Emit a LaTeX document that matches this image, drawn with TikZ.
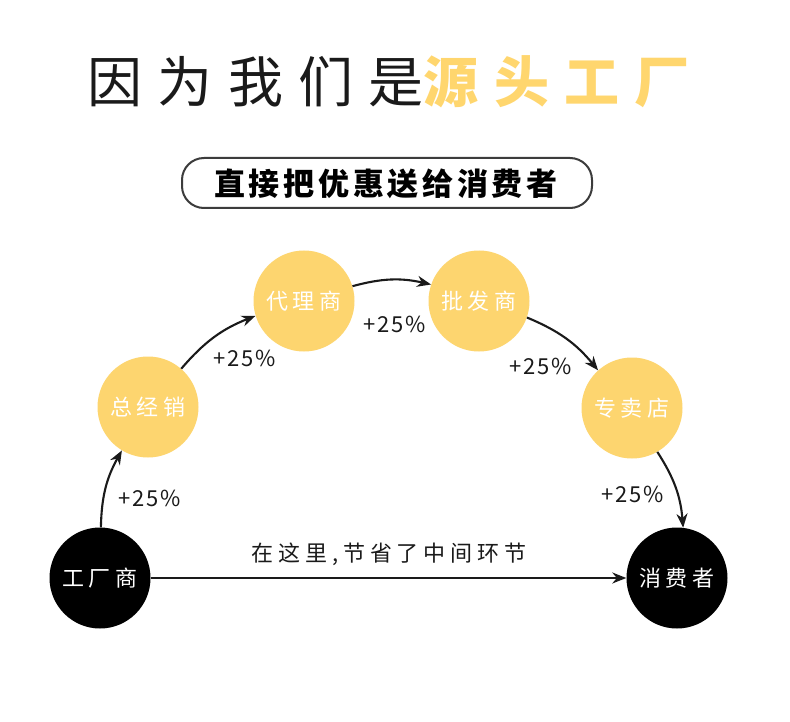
\documentclass[tikz,border=0pt]{standalone}
\usepackage{fontspec}
\setmainfont{Noto Sans CJK SC}
\usetikzlibrary{arrows.meta}
\definecolor{gold}{HTML}{FDD56F}
\definecolor{titlegold}{HTML}{FFD66E}
\definecolor{ink}{HTML}{1A1A1A}
\begin{document}
\begin{tikzpicture}[x=1pt,y=-1pt,
  ball/.style={circle,minimum size=101pt,inner sep=0pt,text=white,
    font=\fontsize{22}{22}\selectfont\addfontfeature{LetterSpace=22}},
  yball/.style={ball,fill=gold},
  kball/.style={ball,fill=black},
  flow/.style={-{Stealth[length=14pt,width=11pt]},line width=2.1pt,draw=ink},
  pct/.style={text=ink,inner sep=0pt,font=\fontsize{22}{22}\selectfont\addfontfeature{LetterSpace=8}},
  note/.style={text=ink,inner sep=0pt,font=\fontsize{22}{22}\selectfont\addfontfeature{LetterSpace=22}}
]
\useasboundingbox (0,0) rectangle (790,722);
\fill[white] (0,0) rectangle (790,722);

% title
\node[anchor=west,inner sep=0pt,text=ink,
  font=\fontsize{55}{55}\selectfont\addfontfeature{LetterSpace=28}] (title) at (87,82)
  {因为我们是\textcolor{titlegold}{\bfseries 源头工厂}};

% subtitle box
\draw[line width=2pt,draw=ink!85,rounded corners=22pt] (182,158) rectangle (592,208);
\node[inner sep=0pt,text=black,
  font=\fontsize{31}{31}\selectfont\bfseries\addfontfeature{LetterSpace=12}] (sub) at (386,184)
  {直接把优惠送给消费者};

% nodes
\node[kball] (f) at (100,578) {工厂商};
\node[yball] (z) at (148,407) {总经销};
\node[yball] (d) at (304,301) {代理商};
\node[yball] (p) at (479,301) {批发商};
\node[yball] (s) at (632,408) {专卖店};
\node[kball] (c) at (677,578) {消费者};

% connectors
\draw[flow] (f.89) to[bend left=14] (z.239);
\draw[flow] (z.49) to[bend left=14] (d.197);
\draw[flow] (d.17) to[bend left=14] (p.161);
\draw[flow] (p.341) to[bend left=14] (s.132);
\draw[flow] (s.300) to[bend left=14] (c.83);
\draw[flow] (f) -- (c);

% labels
\node[pct] (l1) at (150,498) {+25\%};
\node[pct] (l2) at (245,358) {+25\%};
\node[pct] (l3) at (395,324) {+25\%};
\node[pct] (l4) at (541,366) {+25\%};
\node[pct] (l5) at (633,494) {+25\%};
\node[note] (n) at (389,554) {在这里,节省了中间环节};
\end{tikzpicture}
\end{document}
